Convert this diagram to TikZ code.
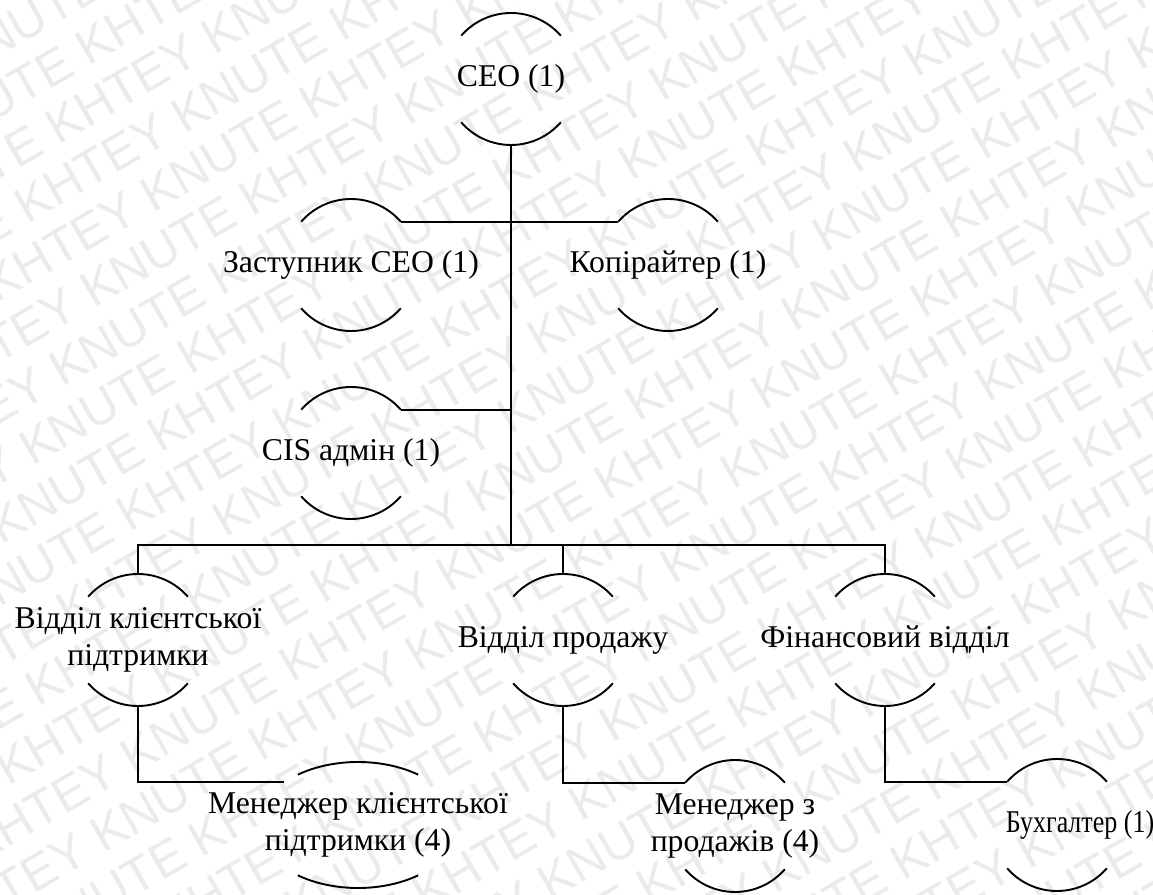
\documentclass[tikz,border=0pt]{standalone}
\usepackage{graphicx}
\usepackage{fontspec}
\setmainfont{Liberation Serif}
\newfontfamily\orgfont{Liberation Serif}
\newfontfamily\wmfont{Liberation Sans}
\usetikzlibrary{shapes.geometric}
\begin{document}
\begin{tikzpicture}[x=1pt, y=1pt, line width=1.9pt,
    ring/.style={circle, minimum size=132pt, inner sep=0pt, outer sep=0pt},
    wide ring/.style={ellipse, minimum width=200pt, minimum height=126pt, inner sep=0pt, outer sep=0pt},
    ringtext/.style={align=center, font=\orgfont\fontsize{31.7}{37}\selectfont, inner sep=0pt},
    wmark/.style={text=black!8, font=\wmfont\fontsize{50}{50}\selectfont, anchor=west, inner sep=0pt}]
  \useasboundingbox (0,0) rectangle (1153,894);

  \begin{scope}
    \clip (0,0) rectangle (1153,894);
    \begin{scope}[rotate=30]
      \foreach \r in {-12,...,16} {
        \pgfmathsetmacro\off{-800+mod(\r+20,5)*66}
        \node[wmark, rotate=30] at (\off,\r*53) {KHTEY KNUTE KHTEY KNUTE KHTEY KNUTE KHTEY KNUTE KHTEY KNUTE KHTEY KNUTE KHTEY KNUTE};
      }
    \end{scope}
  \end{scope}

  \node[ring, label={[ringtext]center:CEO (1)}] (ceo) at (511,815) {};
  \node[ring, label={[ringtext]center:Заступник CEO (1)}] (dep) at (351,629) {};
  \node[ring, label={[ringtext]center:Копірайтер (1)}] (copy) at (668,629) {};
  \node[ring, label={[ringtext]center:CIS адмін (1)}] (cis) at (351,441) {};
  \node[ring, label={[ringtext]center:Відділ клієнтської\\підтримки}] (supp) at (138,254) {};
  \node[ring, label={[ringtext]center:Відділ продажу}] (sales) at (563,254) {};
  \node[ring, label={[ringtext]center:Фінансовий відділ}] (fin) at (885,254) {};
  \node[wide ring, label={[ringtext]center:Менеджер клієнтської\\підтримки (4)}] (msupp) at (358,69) {};
  \node[ring, label={[ringtext]center:Менеджер з\\продажів (4)}] (msales) at (735,68) {};
  \node[ring, label={[ringtext, xshift=23pt]center:\scalebox{0.82}[1]{Бухгалтер (1)}}] (acc) at (1057,69) {};

  \foreach \n in {ceo,dep,copy,cis,supp,sales,fin,msales,acc}
    \draw ([shift={(41:66)}]\n.center) arc (41:139:66)
          ([shift={(221:66)}]\n.center) arc (221:319:66);
  \draw ([shift={(53:100 and 63)}]msupp.center) arc [start angle=53, end angle=127, x radius=100, y radius=63]
        ([shift={(233:100 and 63)}]msupp.center) arc [start angle=233, end angle=307, x radius=100, y radius=63];

  \coordinate (bus) at (511,349);
  \draw (ceo.south) -- (bus);
  \draw (dep.41) -- (dep.41 -| bus);
  \draw (copy.139) -- (copy.139 -| bus);
  \draw (cis.41) -- (cis.41 -| bus);
  \draw (supp.north) |- (bus) -| (fin.north);
  \draw (sales.north) -- (sales.north |- bus);
  \draw (supp.south) |- (msupp.150);
  \draw (sales.south) |- (msales.139);
  \draw (fin.south) |- (acc.139);
\end{tikzpicture}
\end{document}
